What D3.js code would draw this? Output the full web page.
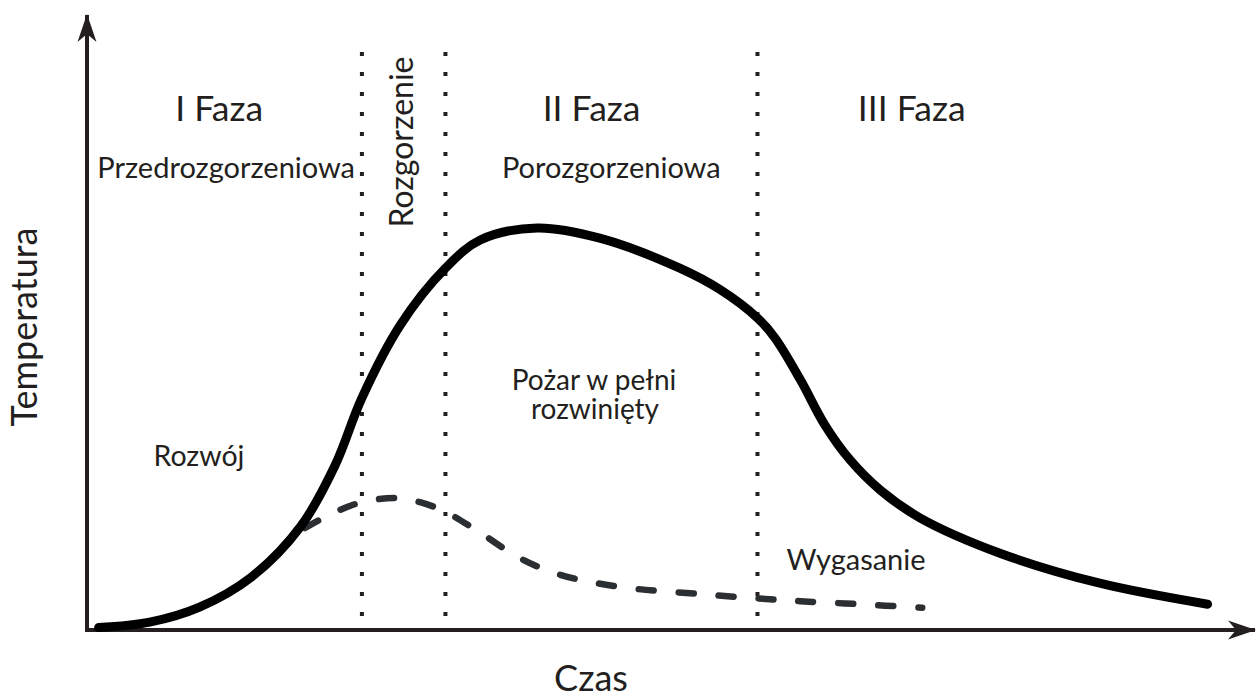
<!DOCTYPE html>
<html lang="pl">
<head>
<meta charset="UTF-8">
<title>Fazy pożaru</title>
<script src="https://d3js.org/d3.v7.min.js"></script>
<style>
    body { margin: 0; background: #ffffff; }
    svg text { font-family: Lato, "Open Sans", sans-serif; fill: #231f20; }
</style>
</head>
<body>
<div id="vis"></div>
<script>
// czas (0-100) i temperatura (0-100)
const mainTime = [1, 5.4, 9.7, 14.1, 18.4, 21.4, 23.7, 27.0, 30.9, 33.9, 38.8, 44.2, 51.1, 54.6, 57.8, 59.3, 61.5, 63.6, 65.8, 68.4, 71.8, 78.7, 87.3, 96.6];
const mainTemp = [0.4, 1.3, 3.8, 8.7, 17.2, 27.5, 38.7, 50.8, 60.3, 65, 67, 65.3, 60.3, 56.7, 52, 48.7, 41.7, 34.2, 28.3, 23.3, 18.7, 12.8, 7.8, 4.3];

const dashTime = [18.8, 20.9, 23.5, 26.6, 28.7, 30.9, 33.9, 37.3, 40.8, 45.9, 52.8, 57.6, 61.5, 66.6, 72];
const dashTemp = [17, 19.2, 21.2, 22, 21.3, 19.7, 16.2, 12, 9.2, 7.2, 6, 5.3, 4.8, 4.3, 3.7];

// granice faz
const boundaries = [23.7, 30.9, 57.8];

const phaseTitles = ["I Faza", "II Faza", "III Faza"];
const phaseTitleTime = [11.4, 43.5, 71.1];
const phaseNames = ["Przedrozgorzeniowa", "Porozgorzeniowa"];
const phaseNameTime = [12, 45.2];

const width = 1257, height = 695;
const svg = d3.select("#vis").append("svg")
    .attr("width", width)
    .attr("height", height);

const x = d3.scaleLinear().domain([0, 100]).range([87, 1247]);
const y = d3.scaleLinear().domain([0, 100]).range([630, 30]);

const ink = "#231f20";

// grot strzałki
const defs = svg.append("defs");
defs.append("marker")
    .attr("id", "arrow")
    .attr("markerUnits", "userSpaceOnUse")
    .attr("viewBox", "-30 -12 32 24")
    .attr("refX", 0).attr("refY", 0)
    .attr("markerWidth", 32).attr("markerHeight", 24)
    .attr("orient", "auto")
    .append("path")
    .attr("d", "M1,0 L-27,-9.5 L-19,0 L-27,9.5 Z")
    .attr("fill", ink);

// linie kropkowane
svg.selectAll("line.phase")
    .data(boundaries)
    .enter().append("line")
    .attr("class", "phase")
    .attr("x1", d => x(d)).attr("x2", d => x(d))
    .attr("y1", 52).attr("y2", y(0))
    .attr("stroke", ink)
    .attr("stroke-width", 4)
    .attr("stroke-dasharray", "4,16");

// osie
svg.append("line")
    .attr("x1", x(0) - 2).attr("y1", y(0))
    .attr("x2", x(100) + 8).attr("y2", y(0))
    .attr("stroke", ink).attr("stroke-width", 4)
    .attr("marker-end", "url(#arrow)");
svg.append("line")
    .attr("x1", x(0)).attr("y1", y(0) + 2)
    .attr("x2", x(0)).attr("y2", 15)
    .attr("stroke", ink).attr("stroke-width", 4)
    .attr("marker-end", "url(#arrow)");

const line = d3.line()
    .x(d => x(d[0]))
    .y(d => y(d[1]))
    .curve(d3.curveCatmullRom.alpha(0.5));

svg.append("path")
    .datum(d3.zip(dashTime, dashTemp))
    .attr("d", line)
    .attr("fill", "none")
    .attr("stroke", "#2b2f31")
    .attr("stroke-width", 6.5)
    .attr("stroke-linecap", "round")
    .attr("stroke-dasharray", "15,25");

svg.append("path")
    .datum(d3.zip(mainTime, mainTemp))
    .attr("d", line)
    .attr("fill", "none")
    .attr("stroke", "#000")
    .attr("stroke-width", 9)
    .attr("stroke-linecap", "round");

// napisy
svg.selectAll("text.title")
    .data(phaseTitles)
    .enter().append("text")
    .attr("class", "title")
    .attr("x", (d, i) => x(phaseTitleTime[i]))
    .attr("y", 121)
    .attr("text-anchor", "middle")
    .style("font-size", "35.5px")
    .text(d => d);

svg.selectAll("text.name")
    .data(phaseNames)
    .enter().append("text")
    .attr("class", "name")
    .attr("x", (d, i) => x(phaseNameTime[i]))
    .attr("y", 178)
    .attr("text-anchor", "middle")
    .style("font-size", "29px")
    .text(d => d);

svg.append("text")
    .attr("transform", "translate(413,142) rotate(-90)")
    .attr("text-anchor", "middle")
    .style("font-size", "32px")
    .text("Rozgorzenie");

svg.append("text")
    .attr("x", 594).attr("y", 390)
    .attr("text-anchor", "middle")
    .style("font-size", "28px")
    .text("Pożar w pełni");
svg.append("text")
    .attr("x", 595).attr("y", 419)
    .attr("text-anchor", "middle")
    .style("font-size", "28px")
    .text("rozwinięty");

svg.append("text")
    .attr("x", 199).attr("y", 466)
    .attr("text-anchor", "middle")
    .style("font-size", "28.5px")
    .text("Rozwój");

svg.append("text")
    .attr("x", 856).attr("y", 570)
    .attr("text-anchor", "middle")
    .style("font-size", "29px")
    .text("Wygasanie");

svg.append("text")
    .attr("transform", "translate(37,327) rotate(-90)")
    .attr("text-anchor", "middle")
    .style("font-size", "36px")
    .text("Temperatura");

svg.append("text")
    .attr("x", 591).attr("y", 691)
    .attr("text-anchor", "middle")
    .style("font-size", "36px")
    .text("Czas");
</script>
</body>
</html>
